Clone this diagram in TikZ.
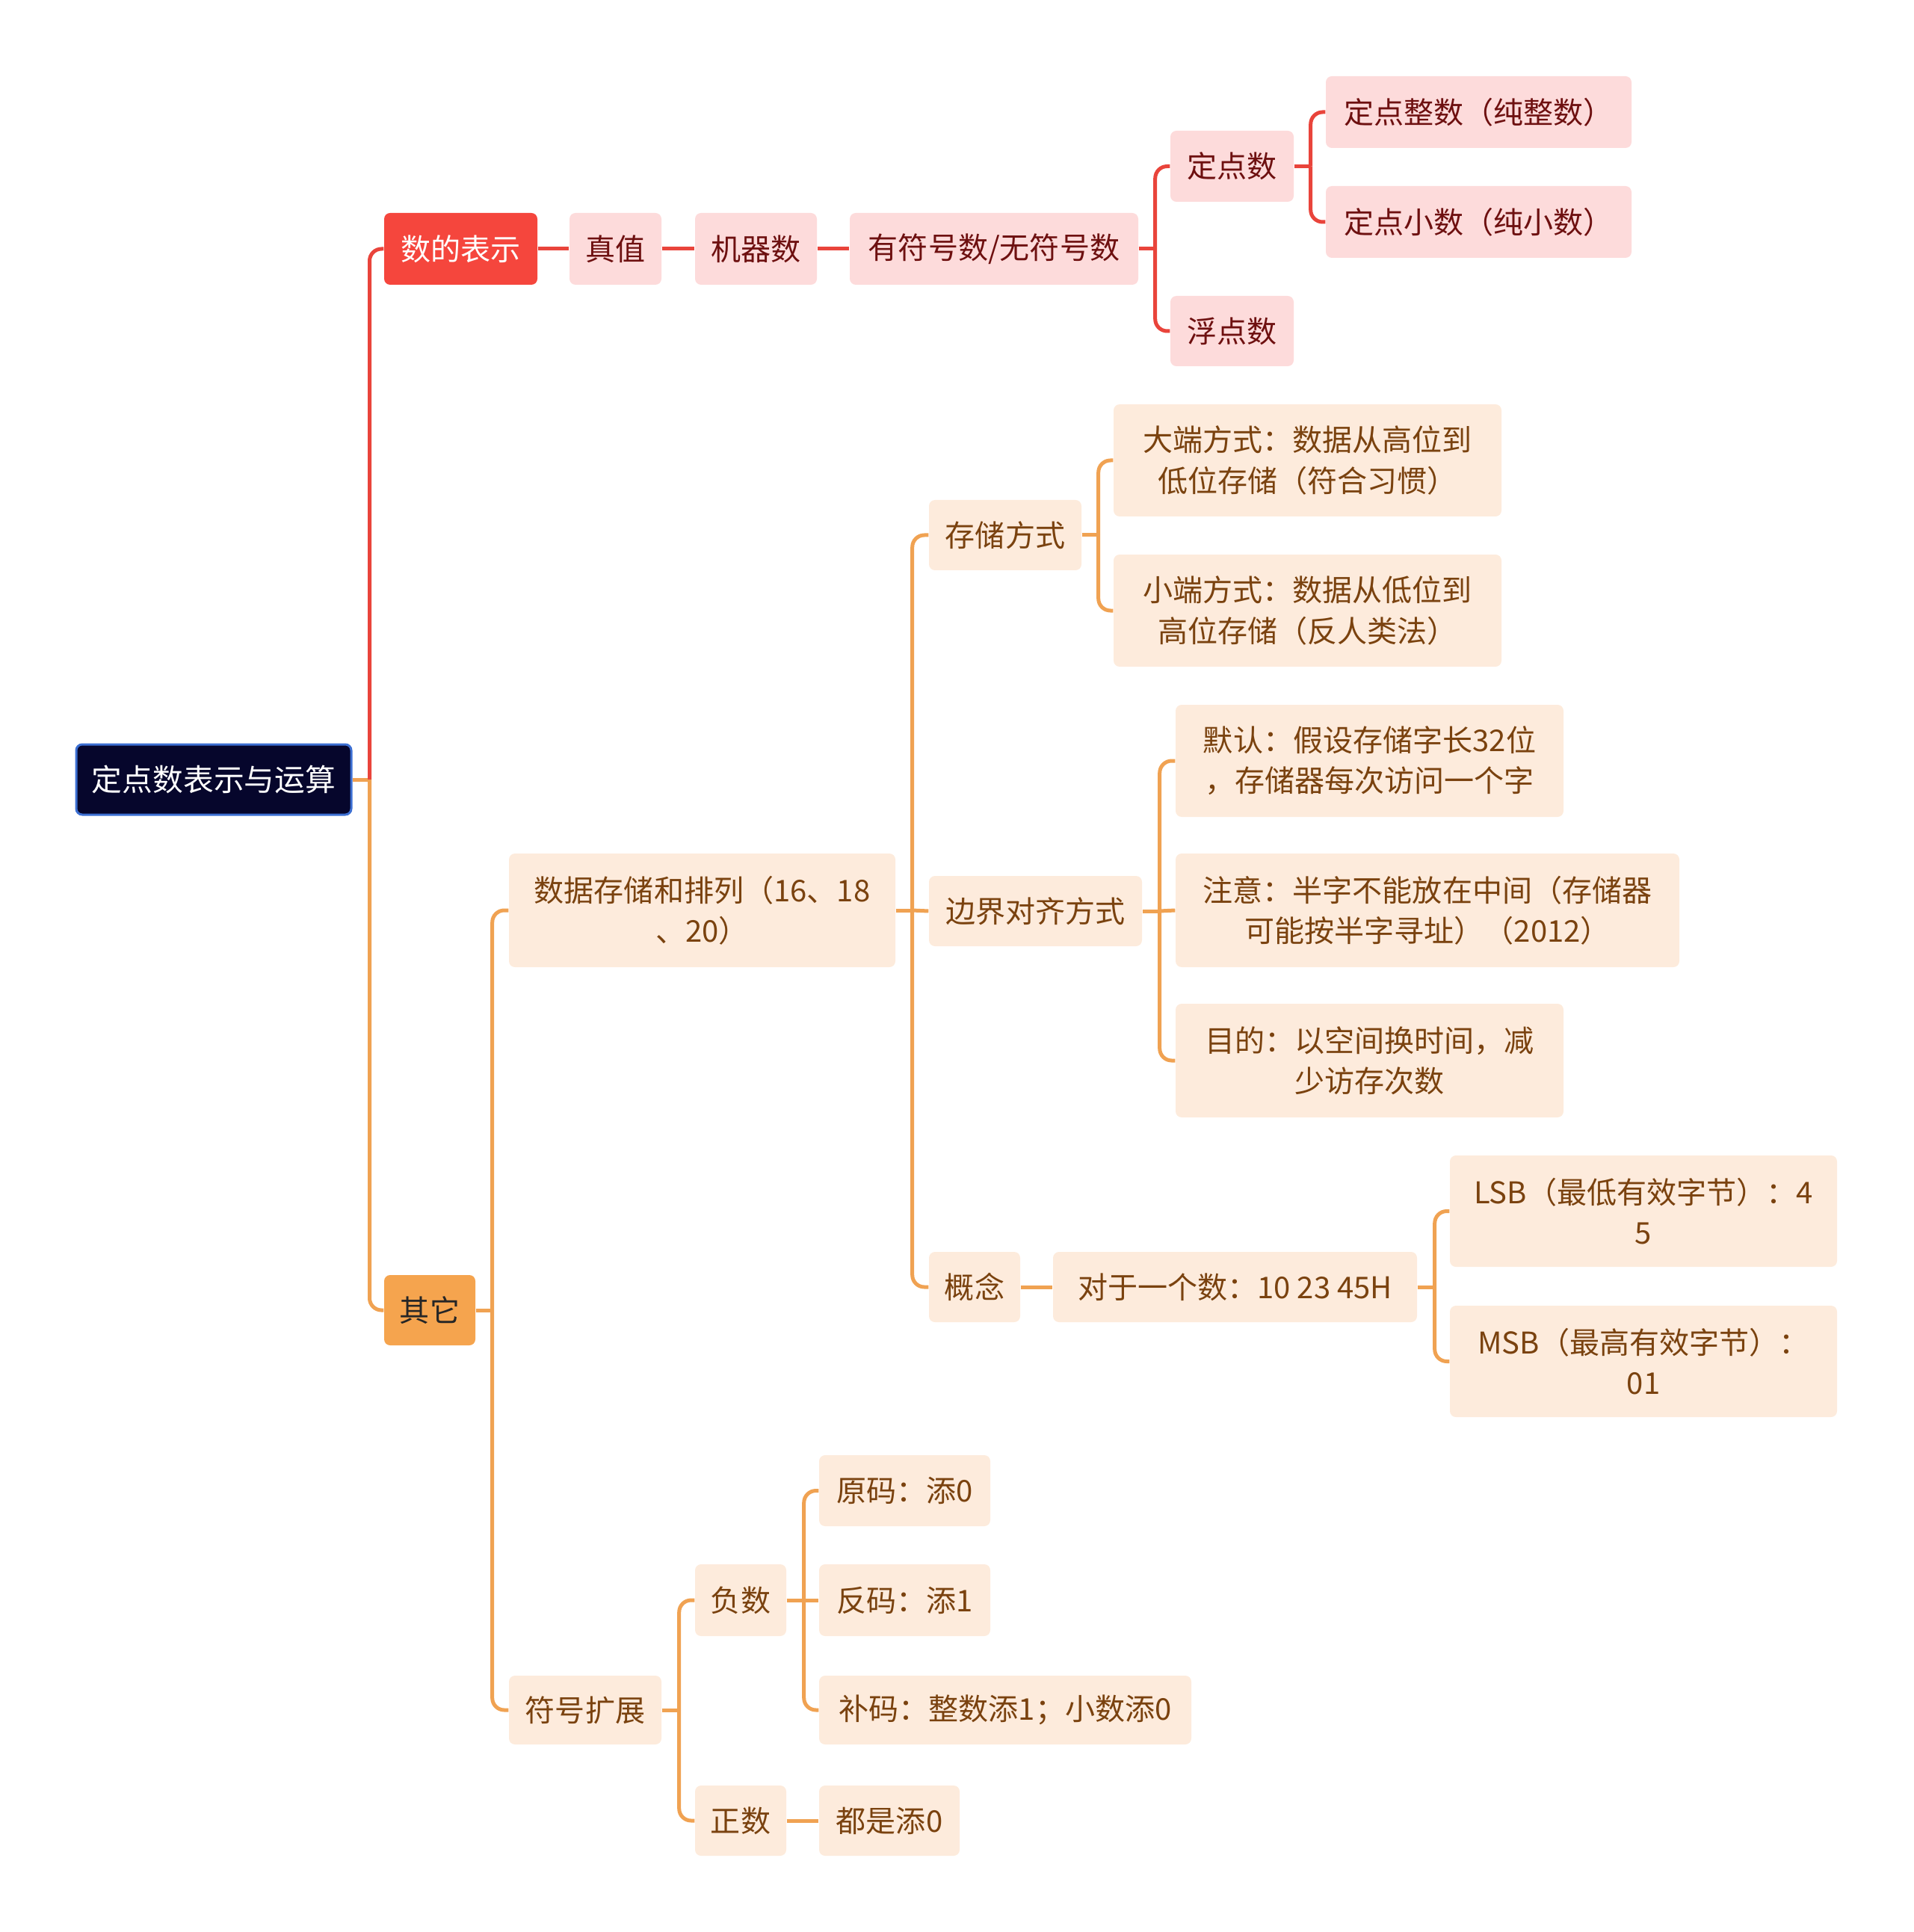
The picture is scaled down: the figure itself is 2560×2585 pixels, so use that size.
\documentclass[tikz,border=0pt]{standalone}
\usepackage{fontspec}
\setmainfont{Noto Sans CJK SC}
\usetikzlibrary{calc}

\definecolor{rootbg}{HTML}{06062C}
\definecolor{rootln}{HTML}{3C6FD2}
\definecolor{redmain}{HTML}{F5463D}
\definecolor{redbg}{HTML}{FDDBDB}
\definecolor{redtx}{HTML}{6E1010}
\definecolor{redln}{HTML}{E9443B}
\definecolor{orgmain}{HTML}{F5A44E}
\definecolor{orgbg}{HTML}{FDEBDC}
\definecolor{orgtx}{HTML}{7A420F}
\definecolor{orgln}{HTML}{F0A252}

\begin{document}
\begin{tikzpicture}[x=0.1mm,y=-0.1mm,
  mmbox/.style={rounded corners=0.8mm,align=center,inner sep=0pt,font=\fontsize{11.4}{15.4}\selectfont},
  redsub/.style={mmbox,fill=redbg,text=redtx},
  orgsub/.style={mmbox,fill=orgbg,text=orgtx},
  rl/.style={draw=redln,line width=0.5mm},
  ol/.style={draw=orgln,line width=0.5mm},
  elbow/.style={rounded corners=1.6mm}]
\useasboundingbox (0,0) rectangle (2560,2585);

% root and main branches
\node[mmbox,fill=rootbg,draw=rootln,line width=0.3mm,text=white,font=\fontsize{11.6}{15}\selectfont,
  minimum width=36.8mm,minimum height=9.4mm] (root) at (286,1043) {定点数表示与运算};
\node[mmbox,fill=redmain,text=white,minimum width=20.5mm,minimum height=9.6mm] (sb) at (616.5,333) {数的表示};
\node[mmbox,fill=orgmain,text=black!85,minimum width=12.2mm,minimum height=9.4mm] (qt) at (575,1753) {其它};

% number representation
\node[redsub,minimum width=12.3mm,minimum height=9.6mm] (zz) at (823.5,333) {真值};
\node[redsub,minimum width=16.3mm,minimum height=9.6mm] (jq) at (1011.5,333) {机器数};
\node[redsub,minimum width=38.6mm,minimum height=9.6mm] (yf) at (1330,333) {有符号数/无符号数};
\node[redsub,minimum width=16.5mm,minimum height=9.5mm] (dd) at (1648.5,222.5) {定点数};
\node[redsub,minimum width=16.5mm,minimum height=9.4mm] (fd) at (1648.5,443) {浮点数};
\node[redsub,minimum width=40.9mm,minimum height=9.6mm] (dz) at (1978.5,150) {定点整数（纯整数）};
\node[redsub,minimum width=40.9mm,minimum height=9.6mm] (dx) at (1978.5,297) {定点小数（纯小数）};

% others
\node[orgsub,minimum width=51.7mm,minimum height=15.2mm] (sj) at (939.5,1218) {数据存储和排列（16、18\\、20）};
\node[orgsub,minimum width=20.4mm,minimum height=9.2mm] (fh) at (783,2288) {符号扩展};
\node[orgsub,minimum width=20.4mm,minimum height=9.4mm] (cc) at (1345,716) {存储方式};
\node[orgsub,minimum width=28.5mm,minimum height=9.4mm] (bj) at (1385.5,1219) {边界对齐方式};
\node[orgsub,minimum width=12.2mm,minimum height=9.4mm] (gn) at (1304,1722) {概念};
\node[orgsub,minimum width=51.9mm,minimum height=15mm] (dd2) at (1749.5,616) {大端方式：数据从高位到\\低位存储（符合习惯）};
\node[orgsub,minimum width=51.9mm,minimum height=15mm] (xd) at (1749.5,817) {小端方式：数据从低位到\\高位存储（反人类法）};
\node[orgsub,minimum width=51.9mm,minimum height=15mm] (mr) at (1832.5,1018) {默认：假设存储字长32位\\，存储器每次访问一个字};
\node[orgsub,minimum width=67.4mm,minimum height=15.2mm] (zy) at (1910,1218) {注意：半字不能放在中间（存储器\\可能按半字寻址）（2012）};
\node[orgsub,minimum width=51.9mm,minimum height=15.2mm] (md) at (1832.5,1419) {目的：以空间换时间，减\\少访存次数};
\node[orgsub,minimum width=48.7mm,minimum height=9.4mm] (dy) at (1652.5,1722) {对于一个数：10 23 45H};
\node[orgsub,minimum width=51.8mm,minimum height=14.9mm] (lsb) at (2199,1620.5) {LSB（最低有效字节）：4\\5};
\node[orgsub,minimum width=51.8mm,minimum height=14.9mm] (msb) at (2199,1821.5) {MSB（最高有效字节）：\\01};
\node[orgsub,minimum width=12.2mm,minimum height=9.6mm] (fs) at (991,2141) {负数};
\node[orgsub,minimum width=12.2mm,minimum height=9.4mm] (zs) at (991,2436) {正数};
\node[orgsub,minimum width=22.9mm,minimum height=9.5mm] (ym) at (1210.5,1994.5) {原码：添0};
\node[orgsub,minimum width=22.9mm,minimum height=9.6mm] (fm) at (1210.5,2141) {反码：添1};
\node[orgsub,minimum width=49.8mm,minimum height=9.2mm] (bm) at (1345,2288) {补码：整数添1；小数添0};
\node[orgsub,minimum width=18.8mm,minimum height=9.4mm] (dsz) at (1190,2436) {都是添0};

% connectors
\draw[ol] (root.east) -- ++(23,0) coordinate (rootj);
\draw[rl,elbow] (rootj) |- (sb.west);
\draw[ol,elbow] (rootj) |- (qt.west);
\draw[rl] (sb) -- (zz);
\draw[rl] (zz) -- (jq);
\draw[rl] (jq) -- (yf);
\draw[rl] (yf.east) -- ++(22,0) coordinate (yfj);
\draw[rl,elbow] (yfj) |- (dd.west);
\draw[rl,elbow] (yfj) |- (fd.west);
\draw[rl] (dd.east) -- ++(22,0) coordinate (ddj);
\draw[rl,elbow] (ddj) |- (dz.west);
\draw[rl,elbow] (ddj) |- (dx.west);

\draw[ol] (qt.east) -- ++(22,0) coordinate (qtj);
\draw[ol,elbow] (qtj) |- (sj.west);
\draw[ol,elbow] (qtj) |- (fh.west);
\draw[ol] (sj.east) -- ++(22,0) coordinate (sjj);
\draw[ol,elbow] (sjj) |- (cc.west);
\draw[ol] (sjj) -- (bj.west);
\draw[ol,elbow] (sjj) |- (gn.west);
\draw[ol] (cc.east) -- ++(22,0) coordinate (ccj);
\draw[ol,elbow] (ccj) |- (dd2.west);
\draw[ol,elbow] (ccj) |- (xd.west);
\draw[ol] (bj.east) -- ++(23,0) coordinate (bjj);
\draw[ol,elbow] (bjj) |- (mr.west);
\draw[ol] (bjj) -- (zy.west);
\draw[ol,elbow] (bjj) |- (md.west);
\draw[ol] (gn) -- (dy);
\draw[ol] (dy.east) -- ++(23,0) coordinate (dyj);
\draw[ol,elbow] (dyj) |- (lsb.west);
\draw[ol,elbow] (dyj) |- (msb.west);
\draw[ol] (fh.east) -- ++(23,0) coordinate (fhj);
\draw[ol,elbow] (fhj) |- (fs.west);
\draw[ol,elbow] (fhj) |- (zs.west);
\draw[ol] (fs.east) -- ++(23,0) coordinate (fsj);
\draw[ol,elbow] (fsj) |- (ym.west);
\draw[ol] (fsj) -- (fm.west);
\draw[ol,elbow] (fsj) |- (bm.west);
\draw[ol] (zs) -- (dsz);
\end{tikzpicture}
\end{document}
